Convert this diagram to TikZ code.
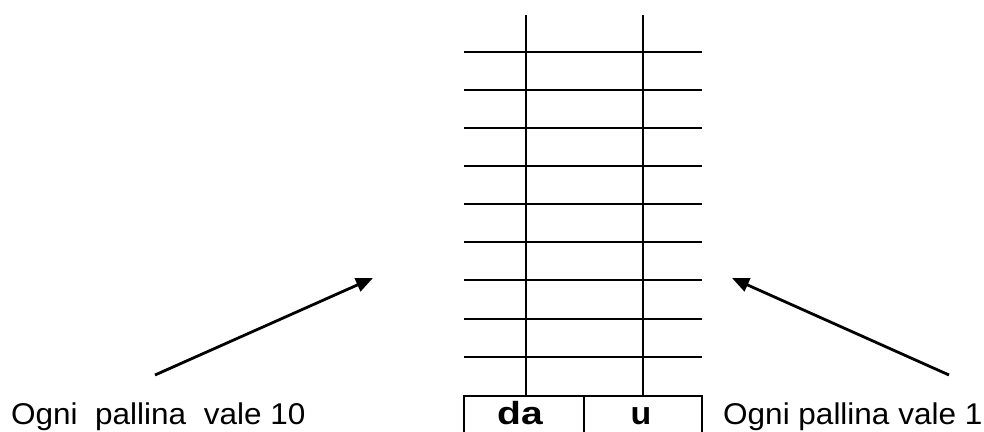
\documentclass[tikz,border=0pt]{standalone}
\usepackage{fontspec}
\setmainfont{Liberation Sans}
\usetikzlibrary{arrows.meta}
\begin{document}
\begin{tikzpicture}[x=1pt,y=-1pt,
  gridline/.style={line width=2.6pt},
  boxline/.style={line width=2.3pt},
  pointer/.style={line width=2.8pt,-{Triangle[length=17pt,width=14pt]}},
  label/.style={inner sep=0pt,font=\fontsize{30}{34}\selectfont,xscale=1.05,transform shape},
  cell/.style={inner sep=0pt,font=\fontsize{32}{36}\selectfont\bfseries,transform shape}]
\useasboundingbox (0,0) rectangle (984,431);
% vertical rods
\draw[gridline] (526,15) -- (526,396);
\draw[gridline] (643,15) -- (643,396);
% horizontal lines
\foreach \y in {52,90,128,166,204,242,280,319,357}
  \draw[gridline] (464,\y) -- (702,\y);
% bottom box (bottom edge outside picture)
\draw[boxline] (464,433) -- (464,396) -- (702,396) -- (702,433);
\draw[boxline] (584,396) -- (584,433);
% cell labels
\node[cell,xscale=1.22,anchor=base] (da) at (520,424) {da};
\node[cell,xscale=1.06,anchor=base] (u) at (641,424) {u};
% side labels
\node[label,anchor=base west] (left) at (11,424) {Ogni\ \ pallina\ \ vale 10};
\node[label,anchor=base west] (right) at (723,424) {Ogni pallina vale 1};
% arrows
\coordinate (ls) at (155,375);
\coordinate (lt) at (373,278);
\coordinate (rs) at (949,375);
\coordinate (rt) at (732,278);
\draw[pointer] (ls) -- (lt);
\draw[pointer] (rs) -- (rt);
\end{tikzpicture}
\end{document}
